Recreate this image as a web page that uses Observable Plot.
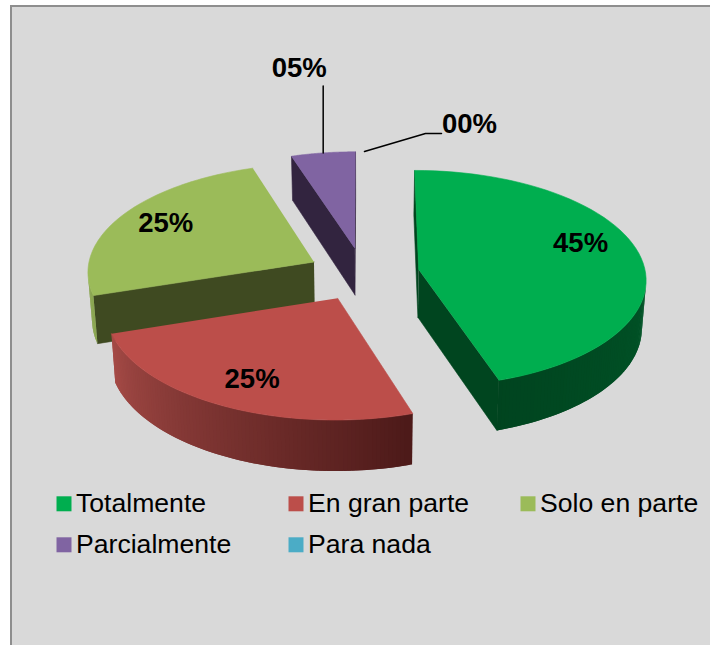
<!DOCTYPE html>
<html><head><meta charset="utf-8">
<style>html,body{margin:0;padding:0;background:#fff}svg{display:block}</style>
<script src="https://cdn.jsdelivr.net/npm/d3@7"></script>
<script src="https://cdn.jsdelivr.net/npm/@observablehq/plot@0.6"></script>
</head><body><div id="chart"></div>
<script>
const categories = ["Totalmente", "En gran parte", "Solo en parte", "Parcialmente", "Para nada"];
const values = [45, 25, 25, 5, 0];
const labels = ["45%", "25%", "25%", "05%", "00%"];
const topColors = ["#00ae4f", "#bc4e4a", "#9bbb59", "#8064a2", "#4bacc6"];
const radialColors = ["#00451f", "#8a3a37", "#3f4a21", "#32243f", "#235a68"];
const rimLight = ["#006a33", "#a64b47", "#8aa650", "#5a4474", "#357a8c"];
const rimDark = ["#00441f", "#4d1a19", "#7f9b48", "#5a4474", "#357a8c"];

// Projection of the tilted pie, in chart units
const W = 710, H = 645;
const cx = 363, cy = 273.5, R = 227, Ry = 108, persp = 0.08, explode = 0.247, depth = 47.5;
function project(px, pz, bottom) {
  const s = 1 / (1 - persp * pz);
  const sx = px * R * s, sy = pz * Ry * s;
  if (!bottom) return [cx + sx, cy + sy];
  return [cx + sx * 0.985, cy + sy + depth * (1 + 0.06 * pz)];
}
const total = d3.sum(values);
let acc = 0;
const slices = values.map((v, i) => {
  const a0 = acc / total * 2 * Math.PI; acc += v;
  const a1 = acc / total * 2 * Math.PI;
  const mid = (a0 + a1) / 2;
  return {i, v, a0, a1, mid, ox: explode * Math.sin(mid), oz: -explode * Math.cos(mid)};
});
const apex = (s, b) => project(s.ox, s.oz, b);
const rim = (s, a, b, f = 1) => project(s.ox + f * Math.sin(a), s.oz - f * Math.cos(a), b);
const area = q => d3.polygonArea(q);

let pid = 0;
function addPoly(list, pts, color) {
  const id = pid++;
  pts.forEach(p => list.push({id, x: p[0], y: p[1], color}));
}
const order = [3, 2, 0, 1];
const sliceMarks = [];
for (const k of order) {
  const s = slices[k];
  if (s.v === 0) continue;
  const walls = [], strips = [], tops = [];
  const qs = [apex(s), rim(s, s.a0), rim(s, s.a0, true), apex(s, true)];
  const qe = [apex(s), rim(s, s.a1), rim(s, s.a1, true), apex(s, true)];
  if (area(qs) > 0) addPoly(walls, qs, radialColors[k]);
  if (area(qe) < 0) addPoly(walls, qe, radialColors[k]);
  const n = Math.max(8, Math.round((s.a1 - s.a0) * 60));
  const step = (s.a1 - s.a0) / n;
  const mix = d3.interpolateRgb(rimLight[k], rimDark[k]);
  // Each band overlaps its neighbour so no seams show
  for (const j of d3.range(n)) {
    const a = s.a0 + step * j, b = s.a0 + step * (j + 1);
    const bb = Math.min(s.a1, b + step);
    const q = [rim(s, a), rim(s, b), rim(s, b, true), rim(s, a, true)];
    const t = (a + step / 2 - s.a0) / (s.a1 - s.a0);
    if (area(q) > 0) addPoly(strips, [rim(s, a), rim(s, bb), rim(s, bb, true), rim(s, a, true)], mix(k === 1 ? 1 - t : t));
  }
  const top = [apex(s)];
  for (let j = 0; j <= 60; j++) top.push(rim(s, s.a0 + (s.a1 - s.a0) * j / 60));
  addPoly(tops, top, topColors[k]);
  sliceMarks.push(
    Plot.line(walls, {x: "x", y: "y", z: "id", fill: "color", stroke: "color", strokeWidth: 0.6, curve: "linear"}),
    Plot.line(strips.slice().reverse(), {x: "x", y: "y", z: "id", fill: "color", stroke: null, curve: "linear"}),
    Plot.line(tops, {x: "x", y: "y", z: "id", fill: "color", stroke: "color", strokeWidth: 0.6, curve: "linear"})
  );
}

// Labels and callouts
const insideRadius = 0.74;
const insideShift = [[-1.5, -14], [-2, 3], [-5, -4]];
const inside = [0, 1, 2].map(k => {
  const s = slices[k], p = rim(s, s.mid, false, insideRadius);
  return {x: p[0] + insideShift[k][0], y: p[1] + insideShift[k][1], t: labels[k]};
});
const p05 = rim(slices[3], slices[3].mid);
const p00 = rim(slices[4], slices[4].mid);
const leaders = [
  {id: 0, x: p05[0], y: p05[1]}, {id: 0, x: p05[0], y: p05[1] - 67},
  {id: 1, x: p00[0] + 1, y: p00[1]}, {id: 1, x: p00[0] + 62, y: p00[1] - 18}, {id: 1, x: p00[0] + 78, y: p00[1] - 18}
];
const outside = [
  {x: p05[0] - 24, y: p05[1] - 85, t: labels[3]},
  {x: p00[0] + 106, y: p00[1] - 27, t: labels[4]}
];

// Legend
const legendCols = [63.5, 295.5, 527.5], legendRows = [503.3, 544.3];
const legend = categories.map((c, i) => ({
  c, color: topColors[i], x: legendCols[i % 3], y: legendRows[Math.floor(i / 3)]
}));

const font = "Liberation Sans, Arial, sans-serif";
const chart = Plot.plot({
  width: W, height: H, margin: 0,
  x: {domain: [0, W], range: [0, W], axis: null},
  y: {domain: [0, H], range: [0, H], axis: null},
  color: {type: "identity"},
  style: {background: "#fff", fontFamily: font},
  marks: [
    Plot.rect([{}], {x1: () => 11, x2: () => W + 5, y1: () => 6, y2: () => H + 5, fill: "#d9d9d9", stroke: "#8e8e8e", strokeWidth: 2}),
    ...sliceMarks,
    Plot.line(leaders, {x: "x", y: "y", z: "id", stroke: "#000", strokeWidth: 1.5, curve: "linear"}),
    Plot.text(inside, {x: "x", y: "y", text: "t", fontSize: 27.5, fontWeight: "bold", fill: "#000"}),
    Plot.text(outside, {x: "x", y: "y", text: "t", fontSize: 27.5, fontWeight: "bold", fill: "#000"}),
    Plot.dot(legend, {x: "x", y: "y", symbol: "square", r: 8.46, fill: "color", stroke: "none"}),
    Plot.text(legend, {x: "x", y: "y", dx: 12, text: "c", textAnchor: "start", fontSize: 26.6, fill: "#000"})
  ]
});
document.getElementById("chart").append(chart);
</script></body></html>
